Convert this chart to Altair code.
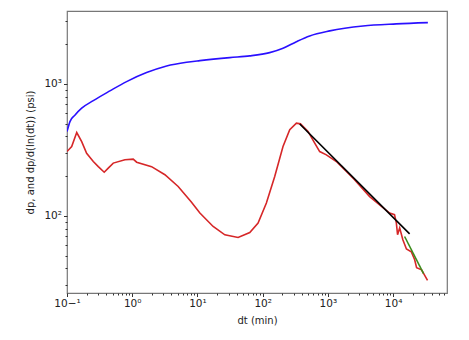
import altair as alt
import pandas as pd

# Pressure change (blue)
dp_t = [0.1, 0.111, 0.133, 0.168, 0.253, 0.455, 0.82, 1.66, 3.37, 6.81, 10.9, 31.3, 63.4, 128, 205, 329, 526, 1067, 3450, 11200, 34100]
dp_v = [435, 518, 582, 655, 747, 885, 1041, 1218, 1369, 1460, 1502, 1583, 1630, 1726, 1864, 2090, 2310, 2523, 2750, 2850, 2913]

# Derivative (red)
der_t = [0.1, 0.118, 0.141, 0.168, 0.2, 0.253, 0.302, 0.372, 0.429, 0.512, 0.773, 1.035, 1.17, 1.98, 3.17, 5.06, 8.0, 10.9, 17.4, 26.3, 42, 63.4, 85, 114, 153, 205, 260, 329, 379, 496, 628, 749, 948, 1349, 2500, 4370, 8830, 10500, 11200, 11700, 12600, 14100, 16000, 19000, 21400, 22900, 27300, 33700]
der_v = [307, 335, 428, 365, 298, 258, 236, 214, 230, 251, 266, 269, 255, 236, 205, 167, 128, 105, 83, 71.8, 68.5, 74.7, 88, 125, 199, 335, 449, 504, 498, 436, 356, 307, 290, 258, 190, 140, 105, 102, 88.5, 72, 81, 65.8, 56, 53.4, 46.5, 40.4, 39, 32.4]

# Fit lines
fit1_t = [370, 17900]
fit1_v = [497, 73]
fit2_t = [15000, 29300]
fit2_v = [69.7, 36.4]

rows = []
for t, v in zip(dp_t, dp_v):
    rows.append({"t": t, "v": v, "s": "dp"})
for t, v in zip(der_t, der_v):
    rows.append({"t": t, "v": v, "s": "der"})
for t, v in zip(fit1_t, fit1_v):
    rows.append({"t": t, "v": v, "s": "fit1"})
for t, v in zip(fit2_t, fit2_v):
    rows.append({"t": t, "v": v, "s": "fit2"})
df = pd.DataFrame(rows)

x_dom = [0.1, 67000]
y_dom = [26, 3570]

def log_ticks(lo, hi):
    vals = []
    for e in range(-2, 6):
        for m in range(1, 10):
            v = m * 10 ** e
            if lo * 0.9999 <= v <= hi * 1.0001:
                vals.append(round(v, 6))
    return vals

x_ticks = log_ticks(*x_dom)
y_ticks = log_ticks(*y_dom)

is_major = "abs(log(datum.value)/LN10 - round(log(datum.value)/LN10)) < 1e-6"
sup = ("replace(replace(replace(replace(replace(replace(replace(format(round(log(datum.value)/LN10),'d'),"
       "'-','⁻'),'0','⁰'),'1','¹'),'2','²'),'3','³'),'4','⁴'),'5','⁵')")
label_expr = f"({is_major}) ? '10' + {sup} : ''"

def make_axis(title, values):
    return alt.Axis(
        title=title,
        values=values,
        labelExpr=label_expr,
        grid=False,
        tickSize={"condition": {"test": is_major, "value": 3.5}, "value": 2},
        tickColor="#333333",
        domain=False,
        labelFont="DejaVu Sans",
        labelFontSize=10.5,
        labelColor="#222222",
        titleFont="DejaVu Sans",
        titleFontSize=10,
        titleFontWeight="normal",
        titleColor="#222222",
        labelPadding=2,
        labelOverlap=False,
        labelFlush=False,
    )

color_scale = alt.Scale(domain=["dp", "der", "fit1", "fit2"],
                        range=["#2a10ff", "#d62728", "#000000", "#3c8c1c"])

x_enc = alt.X("t:Q", scale=alt.Scale(type="log", domain=x_dom, nice=False),
              axis=make_axis("dt (min)", x_ticks))
y_enc = alt.Y("v:Q", scale=alt.Scale(type="log", domain=y_dom, nice=False),
              axis=make_axis("dp, and dp/d(ln(dt)) (psi)", y_ticks))
c_enc = alt.Color("s:N", scale=color_scale, legend=None)

base = alt.Chart(df)
blue = base.transform_filter("datum.s == 'dp'").mark_line(
    strokeWidth=1.6, clip=True, interpolate="monotone").encode(x=x_enc, y=y_enc, color=c_enc)
others = base.transform_filter("datum.s != 'dp'").mark_line(
    strokeWidth=1.6, clip=True).encode(x=x_enc, y=y_enc, color=c_enc, detail="s:N")

chart = alt.layer(blue, others).properties(
    width=380, height=282,
    autosize="none",
    padding={"left": 59, "top": 3, "right": 14, "bottom": 39},
).configure_view(
    stroke="#777777", strokeWidth=1.2
).configure_axisX(titlePadding=6).configure_axisY(titlePadding=8)

chart.save("out.html", embed_options={"renderer": "svg", "actions": False})
